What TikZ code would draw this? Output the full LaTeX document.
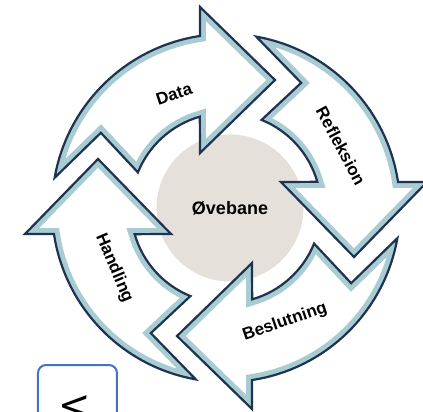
\documentclass[tikz,border=0pt]{standalone}
\usepackage{fontspec}
\setmainfont{Liberation Sans}
\newfontfamily\boxfont{Carlito}
\usetikzlibrary{calc}
\definecolor{rimdark}{RGB}{30,50,82}
\definecolor{rimteal}{RGB}{168,204,210}
\definecolor{hubgray}{RGB}{229,225,218}
\definecolor{boxblue}{RGB}{68,114,196}
\newcommand{\cyclearrow}{(170:174) arc[start angle=170, end angle=98.6, radius=174] -- (-26,201) -- (49,128) -- (-26,55) -- (106:95) arc[start angle=106, end angle=158, radius=95] -- (149:146) -- cycle}

\begin{document}
\begin{tikzpicture}[x=1pt, y=1pt,
    lbl/.style={font=\fontsize{17}{17}\selectfont\bfseries, inner sep=0pt},
    hub/.style={circle, fill=hubgray, minimum size=147pt, inner sep=0pt, font=\fontsize{18}{18}\selectfont\bfseries}]
    \useasboundingbox (-226,-204) rectangle (197,208);
    \clip (-226,-204) rectangle (197,208);

    \node[hub] (hub) at (4,0) {Øvebane};

    \foreach \k in {0,...,3} {
        \begin{scope}[rotate=-90*\k]
            \fill[white] \cyclearrow;
            \begin{scope}
                \clip \cyclearrow;
                \draw[rimteal, line width=12pt] \cyclearrow;
            \end{scope}
            \draw[rimdark, line width=2.2pt, line join=miter] \cyclearrow;
        \end{scope}
    }

    \node[lbl, rotate=18] (data) at (-52,114) {Data};
    \node[lbl, rotate=-62] (refleksion) at (115,62) {Refleksion};
    \node[lbl, rotate=19] (beslutning) at (59,-114) {Beslutning};
    \node[lbl, rotate=-67] (handling) at (-112,-60) {Handling};

    % box at the lower left, cut by the edge
    \node[draw=boxblue, line width=2pt, rounded corners=8pt, minimum width=79pt, minimum height=80pt, anchor=north west] (vbox) at (-189,-156) {};
    \node[font=\boxfont\fontsize{38}{38}\selectfont, rotate=-90, inner sep=0pt] (vtext) at (-151,-198) {V};
\end{tikzpicture}
\end{document}
